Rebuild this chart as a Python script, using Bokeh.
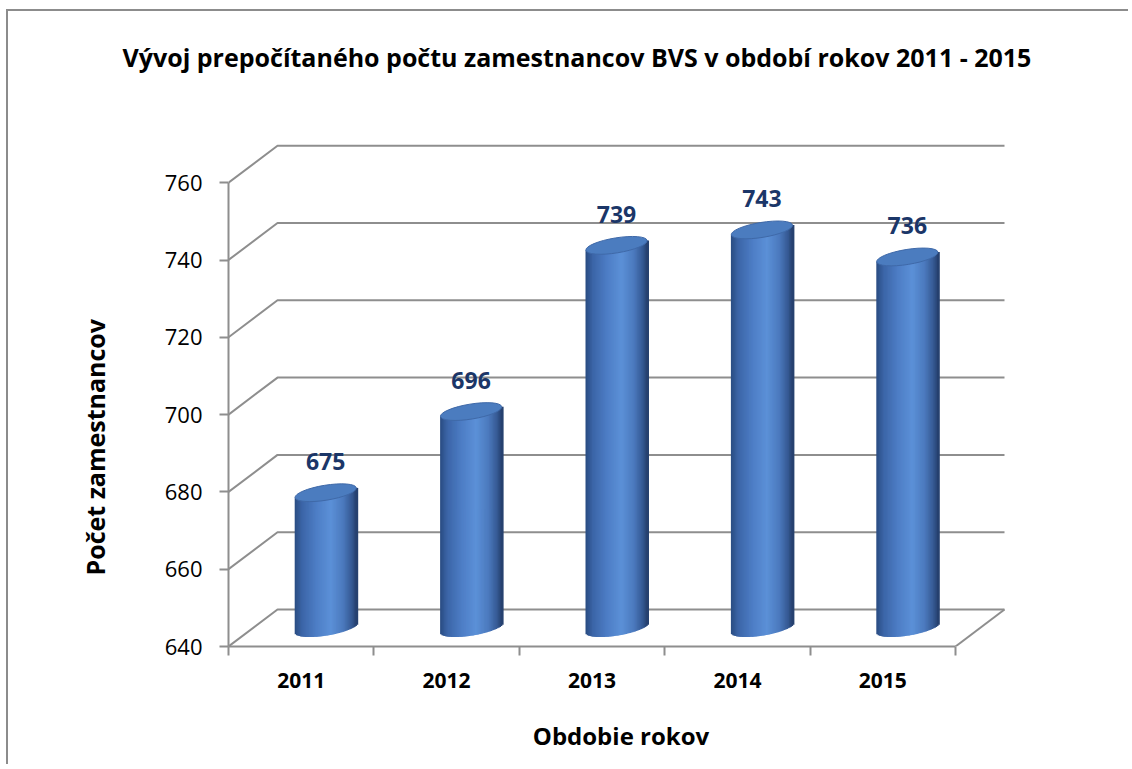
from bokeh.plotting import figure
from bokeh.models import Range1d, FixedTicker, Title
from bokeh.core.properties import value
from bokeh.embed import file_html
from bokeh.resources import INLINE
import numpy as np

# ---- data ----
years = ["2011", "2012", "2013", "2014", "2015"]
counts = [675, 696, 739, 743, 736]
y_ticks = [640, 660, 680, 700, 720, 740, 760]

title_text = "Vývoj prepočítaného počtu zamestnancov BVS v období rokov 2011 - 2015"
x_title = "Obdobie rokov"
y_title = "Počet  zamestnancov"

# ---- style / geometry ----
FONT = "Open Sans"
GRID = "#8e8e8e"
LABEL_COLOR = "#1b3668"

PX_X = 145.4            # pixels per category
PX_Y = 77.3 / 20.0      # pixels per value unit
DX = 49 / PX_X          # depth offset (x, data units)
DY = 37 / PX_Y          # depth offset (y, data units)

FRAME_W = 785
FRAME_H = 552
B_LEFT, B_TOP, B_BOTTOM = 220, 83, 120
W = 1122
H = B_TOP + FRAME_H + B_BOTTOM
X_END = FRAME_W / PX_X
Y_END = y_ticks[0] + FRAME_H / PX_Y

p = figure(width=W, height=H,
           x_range=Range1d(0, X_END), y_range=Range1d(y_ticks[0], Y_END),
           output_backend="svg", toolbar_location=None,
           min_border_left=B_LEFT, min_border_right=W - B_LEFT - FRAME_W,
           min_border_top=B_TOP, min_border_bottom=B_BOTTOM)
p.styles = {"margin-left": "6px", "margin-top": "9px",
            "border-left": "2px solid #8c8c8c", "border-top": "2px solid #8c8c8c"}
p.outline_line_color = None
p.grid.visible = False
p.background_fill_color = "white"
p.border_fill_color = "white"

# ---- title ----
p.title.text = title_text
p.title.align = "left"
p.title.offset = -106
p.title.standoff = 41
p.title.text_font = FONT
p.title.text_font_size = "25px"
p.title.text_font_style = "bold"
p.title.text_color = "black"

# ---- axes ----
yax = p.yaxis[0]
yax.ticker = FixedTicker(ticks=y_ticks, minor_ticks=[])
yax.bounds = (y_ticks[0], y_ticks[-1])
yax.axis_line_color = GRID
yax.axis_line_width = 2
yax.major_tick_line_color = GRID
yax.major_tick_line_width = 2
yax.major_tick_out = 9
yax.major_tick_in = 0
yax.major_label_standoff = 17
yax.major_label_text_font = FONT
yax.major_label_text_font_size = "22px"
yax.major_label_text_color = "black"

xax = p.xaxis[0]
xax.ticker = FixedTicker(ticks=[i + 0.5 for i in range(len(years))],
                         minor_ticks=list(range(len(years) + 1)))
xax.major_label_overrides = {i + 0.5: y for i, y in enumerate(years)}
xax.bounds = (0, len(years))
xax.axis_line_color = GRID
xax.axis_line_width = 2
xax.major_tick_out = 0
xax.major_tick_in = 0
xax.minor_tick_line_color = GRID
xax.minor_tick_line_width = 2
xax.minor_tick_out = 9
xax.minor_tick_in = 0
xax.major_label_standoff = 17
xax.major_label_text_font = FONT
xax.major_label_text_font_size = "21px"
xax.major_label_text_font_style = "bold"
xax.major_label_text_color = "black"
xax.axis_label = x_title
xax.axis_label_standoff = 28
xax.axis_label_text_font = FONT
xax.axis_label_text_font_size = "24px"
xax.axis_label_text_font_style = "bold"
xax.axis_label_text_color = "black"

p.add_layout(Title(text=y_title, align="left", offset=71, standoff=100,
                   text_font=FONT, text_font_size="25px", text_font_style="bold",
                   text_color="black"), "left")

# ---- 3D walls (back wall gridlines + floor) ----
xs, ys = [], []
n = len(years)
for v in y_ticks:
    xs.append([0, DX, n + DX])
    ys.append([v, v + DY, v + DY])
xs.append([n, n + DX])
ys.append([y_ticks[0], y_ticks[0] + DY])
p.multi_line(xs=xs, ys=ys, line_color=GRID, line_width=2)

# ---- cylinders ----
stops_t = [0.0, 0.12, 0.35, 0.58, 0.78, 0.92, 1.0]
stops_c = np.array([[42, 76, 130], [60, 102, 168], [78, 126, 198], [92, 145, 216],
                    [76, 122, 190], [54, 90, 148], [36, 62, 106]], dtype=float)

def shade(t):
    r = np.interp(t, stops_t, stops_c[:, 0])
    g = np.interp(t, stops_t, stops_c[:, 1])
    b = np.interp(t, stops_t, stops_c[:, 2])
    return "#%02x%02x%02x" % (int(r), int(g), int(b))

N = 48
A_PX = 31.0        # half width of cylinder, px
B_PX = 7.5         # half minor axis of elliptical ends, px
ANG = 0.16         # tilt of the ends (rad)
RX = A_PX / PX_X
TILT = A_PX * np.sin(ANG)
L, R, T, B, C = [], [], [], [], []
cxs, tops = [], []
for i, v in enumerate(counts):
    cx = i + 0.5 + DX / 2
    cxs.append(cx)
    tops.append(v + DY / 2)
    edges = np.linspace(-1, 1, N + 1)
    for j in range(N):
        u0, u1 = edges[j], edges[j + 1]
        um = 0.5 * (u0 + u1)
        down = B_PX * np.sqrt(max(0.0, 1 - um * um)) - TILT * um
        L.append(cx + u0 * RX)
        R.append(cx + u1 * RX + 1.5 / PX_X)
        B.append(y_ticks[0] + DY / 2 - down / PX_Y)
        T.append(v + DY / 2 + TILT * um / PX_Y)
        C.append(shade((um + 1) / 2))
p.quad(left=L, right=R, top=T, bottom=B, fill_color=C, line_color=None)

p.ellipse(x=cxs, y=tops, width=2 * A_PX, height=2 * B_PX, width_units="screen",
          height_units="screen", angle=ANG, fill_color="#4b7cbf",
          line_color="#3f69a8", line_width=1)

p.text(x=cxs, y=[t + 31 / PX_Y for t in tops], text=[str(v) for v in counts],
       text_align="center", text_baseline="middle", text_font=value(FONT),
       text_font_style="bold", text_font_size="23px", text_color=LABEL_COLOR)

open("out.html", "w").write(file_html(p, INLINE))
